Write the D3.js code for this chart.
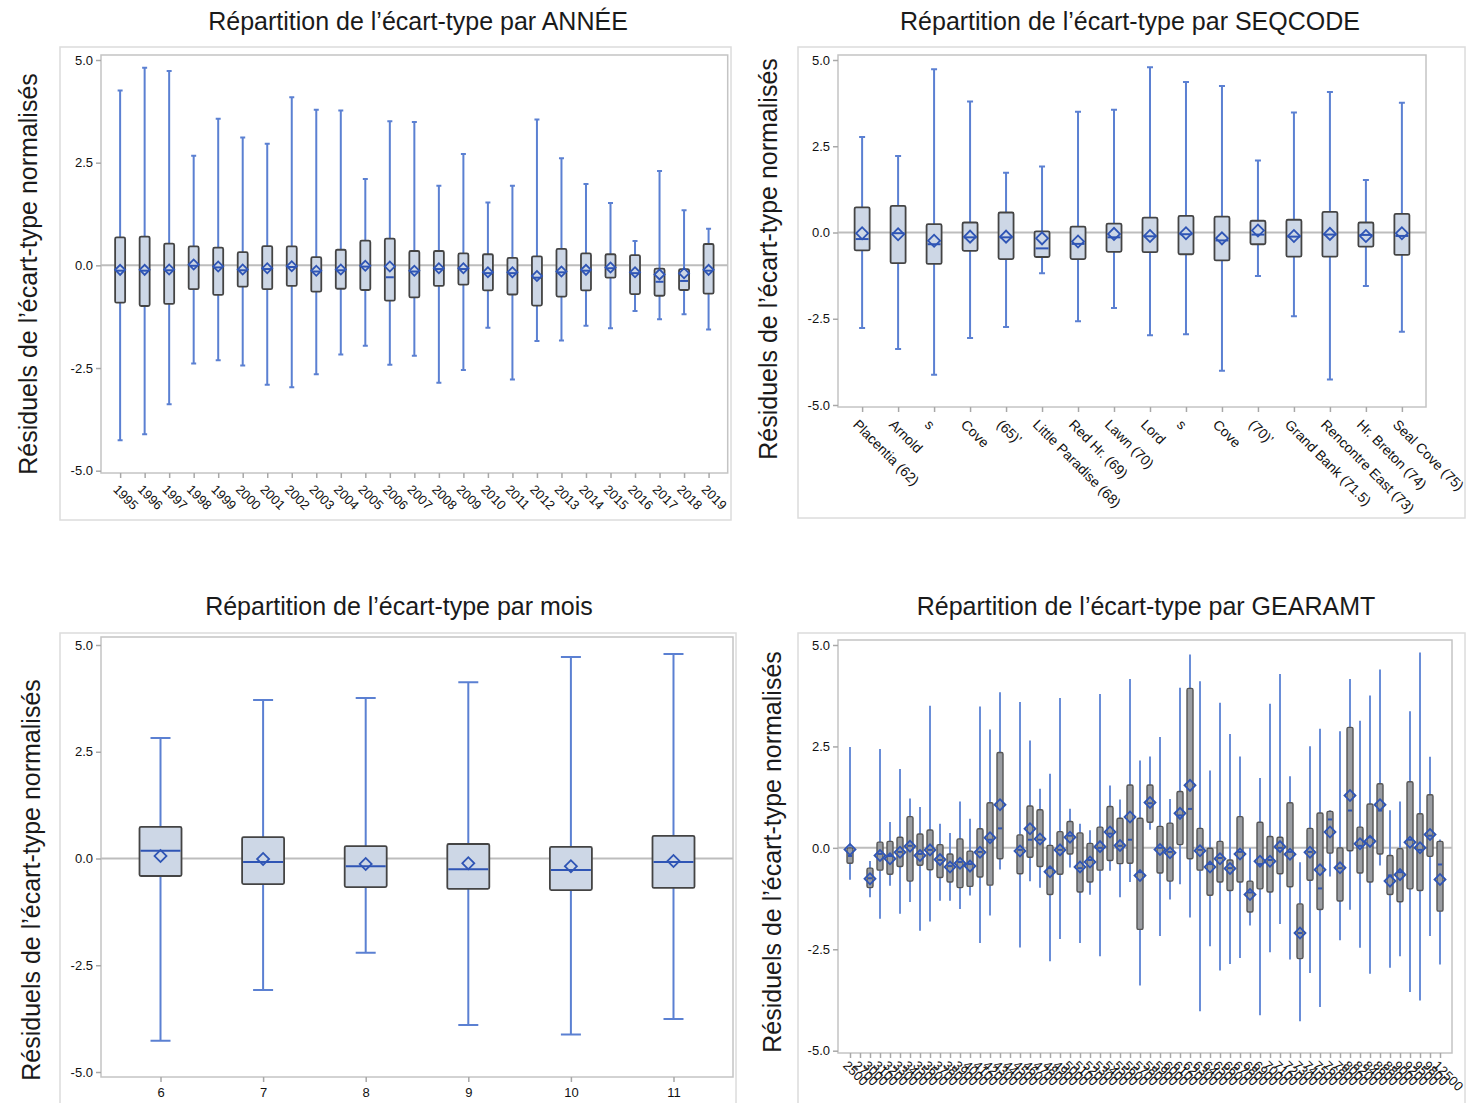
<!DOCTYPE html>
<html>
<head>
<meta charset="utf-8">
<script src="https://cdn.jsdelivr.net/npm/d3@7"></script>
<style>
  body { margin: 0; background: #fff; }
  svg text { font-family: "Liberation Sans", Arial, sans-serif; }
</style>
</head>
<body>
<svg id="chart" width="1467" height="1103"></svg>
<script>
// ---------- Répartition par ANNÉE ----------
const yearCats = ["1995","1996","1997","1998","1999","2000","2001","2002","2003","2004","2005","2006",
  "2007","2008","2009","2010","2011","2012","2013","2014","2015","2016","2017","2018","2019"];
const yearMax  = [4.26,4.81,4.73,2.67,3.57,3.11,2.96,4.09,3.79,3.77,2.10,3.51,3.49,1.94,2.71,1.53,1.94,3.55,2.61,1.98,1.52,0.59,2.30,1.34,0.89];
const yearQ3   = [0.68,0.70,0.53,0.46,0.43,0.32,0.47,0.46,0.20,0.38,0.60,0.65,0.35,0.35,0.29,0.27,0.18,0.22,0.40,0.29,0.27,0.25,-0.08,-0.09,0.52];
const yearMed  = [-0.13,-0.13,-0.12,-0.01,-0.05,-0.12,-0.09,-0.04,-0.15,-0.12,-0.03,-0.29,-0.15,-0.09,-0.09,-0.19,-0.19,-0.30,-0.17,-0.13,-0.07,-0.19,-0.40,-0.38,-0.13];
const yearMean = [-0.11,-0.11,-0.10,0.02,-0.03,-0.10,-0.07,-0.02,-0.13,-0.10,-0.01,-0.03,-0.13,-0.07,-0.07,-0.17,-0.17,-0.26,-0.15,-0.11,-0.05,-0.17,-0.22,-0.19,-0.11];
const yearQ1   = [-0.91,-0.99,-0.94,-0.58,-0.72,-0.52,-0.58,-0.50,-0.64,-0.57,-0.60,-0.86,-0.78,-0.50,-0.47,-0.61,-0.71,-0.98,-0.76,-0.61,-0.30,-0.70,-0.74,-0.60,-0.69];
const yearMin  = [-4.26,-4.11,-3.38,-2.39,-2.31,-2.44,-2.91,-2.97,-2.65,-2.17,-1.96,-2.42,-2.20,-2.86,-2.55,-1.52,-2.78,-1.84,-1.83,-1.47,-1.53,-1.11,-1.31,-1.19,-1.56];

// ---------- Répartition par SEQCODE ----------
const seqCats = ["Placentia (62)","Arnold","s","Cove","(65)’","Little Paradise (68)","Red Hr. (69)","Lawn (70)",
  "Lord","s","Cove","(70)’","Grand Bank (71.5)","Rencontre East (73)","Hr. Breton (74)","Seal Cove (75)"];
const seqMax  = [2.77,2.22,4.73,3.80,1.73,1.91,3.50,3.56,4.79,4.36,4.25,2.09,3.48,4.07,1.52,3.76];
const seqQ3   = [0.73,0.77,0.24,0.29,0.58,0.03,0.17,0.26,0.43,0.48,0.46,0.34,0.37,0.60,0.29,0.54];
const seqMed  = [-0.19,-0.02,-0.34,-0.14,-0.14,-0.46,-0.33,-0.14,-0.11,-0.05,-0.23,-0.06,-0.12,-0.06,-0.07,-0.10];
const seqMean = [-0.02,-0.05,-0.24,-0.12,-0.12,-0.17,-0.26,-0.04,-0.10,-0.02,-0.17,0.06,-0.10,-0.04,-0.10,-0.02];
const seqQ1   = [-0.52,-0.89,-0.91,-0.53,-0.77,-0.71,-0.77,-0.56,-0.57,-0.63,-0.81,-0.34,-0.70,-0.70,-0.41,-0.65];
const seqMin  = [-2.77,-3.38,-4.12,-3.06,-2.74,-1.18,-2.57,-2.19,-2.98,-2.95,-4.01,-1.26,-2.43,-4.26,-1.55,-2.88];

// ---------- Répartition par mois ----------
const moisCats = ["6","7","8","9","10","11"];
const moisMax  = [2.82,3.71,3.76,4.13,4.72,4.79];
const moisQ3   = [0.74,0.50,0.29,0.34,0.27,0.53];
const moisMed  = [0.18,-0.08,-0.18,-0.25,-0.27,-0.08];
const moisMean = [0.06,-0.01,-0.13,-0.11,-0.18,-0.06];
const moisQ1   = [-0.41,-0.60,-0.67,-0.71,-0.74,-0.69];
const moisMin  = [-4.27,-3.08,-2.21,-3.90,-4.12,-3.76];

// ---------- Répartition par GEARAMT ----------
const gearCats = ["2500","2700","3000","3100","3200","3300","3400","3500","3600","3700","3800","3900",
  "4000","4100","4200","4300","4400","4500","4600","4700","4800","4900","5000","5100","5200","5300",
  "5400","5500","5600","5700","5800","5900","6000","6100","6200","6300","6400","6500","6600","6700",
  "6800","6900","7000","7100","7200","7300","7400","7500","7600","7800","8000","8200","8400","8600",
  "8800","9000","9200","9500","9800","12500"];
const gearMax  = [2.46,null,-0.35,2.41,0.61,1.92,1.19,0.98,3.48,0.57,0.34,1.12,0.69,3.46,2.89,3.81,null,3.57,2.62,1.43,
  1.80,3.67,0.94,0.57,0.41,3.77,1.51,1.17,4.14,2.13,2.23,2.71,1.18,3.92,4.74,4.08,1.88,3.55,2.78,2.23,
  -0.03,1.70,3.53,4.26,1.74,-0.38,2.48,2.91,0.90,2.85,4.14,3.11,3.73,4.37,0.90,1.12,3.34,4.79,2.22,0.18];
const gearQ3   = [0.00,null,-0.50,0.14,0.16,0.26,0.77,0.34,0.44,0.08,-0.15,0.22,-0.08,0.47,1.11,2.35,null,0.32,1.03,0.94,
  0.06,0.40,0.65,0.37,0.11,0.51,1.02,0.73,1.55,0.73,1.55,0.53,0.61,1.39,3.93,0.48,-0.01,0.16,-0.30,0.77,
  -0.82,0.63,0.28,0.26,1.11,-1.38,0.48,0.86,0.90,0.00,2.97,0.51,1.08,1.58,-0.19,-0.02,1.63,0.84,1.31,0.16];
const gearMed  = [-0.20,null,-0.75,-0.15,-0.20,-0.10,0.05,-0.15,-0.05,-0.30,-0.45,-0.35,-0.40,-0.10,0.20,0.48,null,-0.05,0.20,0.20,
  -0.50,-0.05,0.30,-0.50,-0.30,0.00,0.35,0.05,0.20,-0.60,1.10,0.00,-0.10,0.80,0.96,-0.05,-0.40,-0.25,-0.50,-0.10,
  -1.10,-0.40,-0.30,0.00,-0.10,-2.10,-0.10,-1.00,0.70,-0.50,0.92,0.05,0.26,0.92,-0.68,-0.60,0.20,-0.05,0.30,-0.41];
const gearMean = [-0.04,null,-0.76,-0.19,-0.27,-0.11,0.04,-0.19,-0.05,-0.29,-0.47,-0.38,-0.45,-0.11,0.25,1.06,null,-0.08,0.47,0.22,
  -0.59,-0.05,0.26,-0.47,-0.35,0.03,0.39,0.06,0.76,-0.68,1.12,-0.04,-0.12,0.85,1.54,-0.07,-0.47,-0.27,-0.51,-0.15,
  -1.15,-0.33,-0.33,0.03,-0.16,-2.10,-0.11,-0.54,0.39,-0.49,1.29,0.10,0.16,1.06,-0.82,-0.66,0.14,0.00,0.33,-0.78];
const gearQ1   = [-0.38,null,-0.98,-0.55,-0.65,-0.46,-0.82,-0.43,-0.54,-0.73,-0.84,-0.98,-0.95,-0.72,-0.92,-0.27,null,-0.64,-0.23,-0.46,
  -1.15,-0.65,-0.15,-1.09,-0.84,-0.55,-0.31,-0.39,-0.38,-2.01,0.63,-0.62,-0.82,0.08,-0.27,-0.55,-1.17,-0.84,-1.05,-0.84,
  -1.58,-1.01,-1.09,-0.64,-0.96,-2.73,-0.80,-1.52,-0.13,-1.31,-0.07,-0.62,-0.84,-0.15,-1.15,-1.33,-1.01,-1.05,-0.21,-1.56];
const gearMin  = [-0.76,null,-1.19,-1.72,-0.91,-1.60,-1.31,-2.02,-1.79,-1.28,-1.28,-1.48,-1.15,-2.32,-1.64,-0.51,null,-2.43,-0.80,-0.96,
  -2.77,-2.22,-0.46,-2.32,-1.13,-2.65,-0.54,-1.19,-0.82,-3.37,0.47,-2.15,-1.25,-0.87,-1.69,-4.00,-2.40,-3.00,-2.84,-2.69,
  -1.89,-4.10,-2.55,-1.85,-2.73,-4.25,-3.06,-3.90,-0.68,-2.25,-1.50,-2.44,-3.08,-0.41,-2.93,-2.65,-3.53,-3.74,-2.15,-2.85];

const yTicks = [-5, -2.5, 0, 2.5, 5];
const yTitle = "Résiduels de l’écart-type normalisés";

const svg = d3.select("#chart");

function drawPanel(p) {
  const g = svg.append("g");

  // outer graph border
  g.append("rect")
    .attr("x", p.frame[0]).attr("y", p.frame[1])
    .attr("width", p.frame[2] - p.frame[0]).attr("height", p.frame[3] - p.frame[1])
    .attr("fill", "none").attr("stroke", "#dcdcdc").attr("stroke-width", 1.5);

  g.append("text")
    .attr("x", p.titleX).attr("y", p.titleY)
    .attr("text-anchor", "middle").attr("font-size", 25).attr("fill", "#1a1a1a")
    .text(p.title);

  g.append("text")
    .attr("transform", `translate(${p.ylabX},${p.ylabY}) rotate(-90)`)
    .attr("text-anchor", "middle").attr("font-size", 25).attr("fill", "#1a1a1a")
    .text(yTitle);

  const idx = d3.range(p.labels.length);
  const x = d3.scalePoint().domain(idx).range([p.plot.left, p.plot.right]).padding(p.pad);
  const y = d3.scaleLinear().domain([-5, 5]).range([p.yBottom, p.yTop]);

  // plot wall
  g.append("rect")
    .attr("x", p.plot.left).attr("y", p.plot.top)
    .attr("width", p.plot.right - p.plot.left).attr("height", p.plot.bottom - p.plot.top)
    .attr("fill", "#fff").attr("stroke", "#c4c4c4").attr("stroke-width", 1.5);

  // reference line at zero
  g.append("line")
    .attr("x1", p.plot.left).attr("x2", p.plot.right)
    .attr("y1", y(0)).attr("y2", y(0))
    .attr("stroke", "#bdbdbd").attr("stroke-width", 2);

  // y axis
  const ya = g.append("g")
    .attr("transform", `translate(${p.plot.left},0)`)
    .call(d3.axisLeft(y).tickValues(yTicks).tickFormat(d => d.toFixed(1)).tickSize(5).tickPadding(3));
  ya.select(".domain").remove();
  ya.selectAll(".tick line").attr("stroke", "#a8a8a8").attr("stroke-width", 1.5);
  ya.selectAll(".tick text").attr("font-size", 13).attr("fill", "#111")
    .style("font-family", "'Liberation Sans', Arial, sans-serif");

  // x axis
  const xa = g.append("g")
    .attr("transform", `translate(0,${p.plot.bottom})`)
    .call(d3.axisBottom(x).tickFormat(i => p.labels[i]).tickSize(5));
  xa.select(".domain").remove();
  xa.selectAll(".tick line").attr("stroke", "#a8a8a8").attr("stroke-width", 1.5);
  const xt = xa.selectAll(".tick text").attr("font-size", p.labSize).attr("fill", "#111")
    .style("font-family", "'Liberation Sans', Arial, sans-serif");
  if (p.rotate) {
    xt.attr("text-anchor", "start")
      .attr("x", 0).attr("y", 0).attr("dy", "0.35em")
      .attr("transform", `translate(${p.labDx},${p.labDy}) rotate(45)`);
  } else {
    xt.attr("dy", "0.71em").attr("y", 11);
  }

  const rows = idx.map(i => ({
    i, max: p.max[i], q3: p.q3[i], med: p.med[i], mean: p.mean[i], q1: p.q1[i], min: p.min[i]
  })).filter(d => d.max !== null);

  const bw = p.boxW, cw = p.capW;
  const marks = g.append("g");

  // whiskers with small caps
  marks.selectAll(".wh").data(rows).join("path")
    .attr("d", d => `M${x(d.i)},${y(d.max)}V${y(d.q3)}M${x(d.i)},${y(d.q1)}V${y(d.min)}` +
      `M${x(d.i) - cw / 2},${y(d.max)}H${x(d.i) + cw / 2}M${x(d.i) - cw / 2},${y(d.min)}H${x(d.i) + cw / 2}`)
    .attr("stroke", p.whiskerColor).attr("stroke-width", p.whiskerW).attr("fill", "none");

  // interquartile boxes
  marks.selectAll(".bx").data(rows).join("rect")
    .attr("x", d => x(d.i) - bw / 2).attr("width", bw)
    .attr("y", d => y(d.q3)).attr("height", d => Math.max(1, y(d.q1) - y(d.q3)))
    .attr("rx", 1.5)
    .attr("fill", p.boxFill).attr("stroke", p.boxStroke).attr("stroke-width", p.boxStrokeW);

  // medians
  marks.selectAll(".md").data(rows).join("line")
    .attr("x1", d => x(d.i) - bw / 2 + 1).attr("x2", d => x(d.i) + bw / 2 - 1)
    .attr("y1", d => y(d.med)).attr("y2", d => y(d.med))
    .attr("stroke", "#2f55b5").attr("stroke-width", 2);

  // means (diamonds)
  const diamond = d3.symbol().type(d3.symbolSquare).size(p.diamond * p.diamond / 2);
  marks.selectAll(".mn").data(rows).join("path")
    .attr("d", diamond)
    .attr("transform", d => `translate(${x(d.i)},${y(d.mean)}) rotate(45)`)
    .attr("fill", "none").attr("stroke", "#2f55b5").attr("stroke-width", 1.8);
}

drawPanel({
  title: "Répartition de l’écart-type par ANNÉE", titleX: 418, titleY: 30,
  ylabX: 37, ylabY: 274,
  frame: [60, 47, 731, 520],
  plot: { left: 101, right: 727.7, top: 55, bottom: 473 },
  yTop: 60, yBottom: 470.7, pad: 0.78,
  labels: yearCats, max: yearMax, q3: yearQ3, med: yearMed, mean: yearMean, q1: yearQ1, min: yearMin,
  rotate: true, labDx: -5, labDy: 14, labSize: 13,
  boxW: 10, capW: 5, diamond: 10,
  whiskerColor: "#5b80d2", whiskerW: 2, boxFill: "#cdd7e6", boxStroke: "#444", boxStrokeW: 1.8
});

drawPanel({
  title: "Répartition de l’écart-type par SEQCODE", titleX: 1130, titleY: 30,
  ylabX: 777, ylabY: 259,
  frame: [798, 47, 1465, 518],
  plot: { left: 838, right: 1426, top: 55, bottom: 407 },
  yTop: 60, yBottom: 405, pad: 0.67,
  labels: seqCats, max: seqMax, q3: seqQ3, med: seqMed, mean: seqMean, q1: seqQ1, min: seqMin,
  rotate: true, labDx: -7, labDy: 15, labSize: 14,
  boxW: 15, capW: 6, diamond: 12,
  whiskerColor: "#5b80d2", whiskerW: 2, boxFill: "#cdd7e6", boxStroke: "#444", boxStrokeW: 1.8
});

drawPanel({
  title: "Répartition de l’écart-type par mois", titleX: 399, titleY: 615,
  ylabX: 40, ylabY: 880,
  frame: [60, 633, 736, 1110],
  plot: { left: 101, right: 733, top: 637, bottom: 1077 },
  yTop: 645, yBottom: 1072, pad: 0.58,
  labels: moisCats, max: moisMax, q3: moisQ3, med: moisMed, mean: moisMean, q1: moisQ1, min: moisMin,
  rotate: false, labSize: 13,
  boxW: 42, capW: 20, diamond: 12,
  whiskerColor: "#5b80d2", whiskerW: 2, boxFill: "#cdd7e6", boxStroke: "#444", boxStrokeW: 1.8
});

drawPanel({
  title: "Répartition de l’écart-type par GEARAMT", titleX: 1146, titleY: 615,
  ylabX: 781, ylabY: 852,
  frame: [798, 633, 1465, 1110],
  plot: { left: 838, right: 1452, top: 640, bottom: 1053 },
  yTop: 645, yBottom: 1050.7, pad: 1.2,
  labels: gearCats, max: gearMax, q3: gearQ3, med: gearMed, mean: gearMean, q1: gearQ1, min: gearMin,
  rotate: true, labDx: -5, labDy: 10, labSize: 13,
  boxW: 6, capW: 2, diamond: 11,
  whiskerColor: "#6a8ed8", whiskerW: 2, boxFill: "#9a9da2", boxStroke: "#555", boxStrokeW: 1.4
});
</script>
</body>
</html>
